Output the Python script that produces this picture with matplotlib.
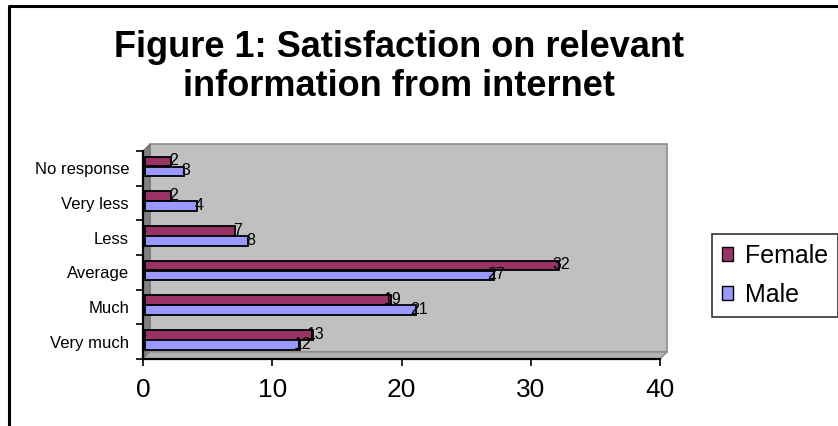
import numpy as np
import matplotlib
matplotlib.use("Agg")
import matplotlib.pyplot as plt
from matplotlib.patches import Polygon, Patch
from matplotlib.lines import Line2D
import matplotlib.transforms as mtransforms

plt.rcParams['font.family'] = ['Liberation Sans', 'DejaVu Sans']

# responses, listed bottom to top
categories = ['Very much', 'Much', 'Average', 'Less', 'Very less', 'No response']
female = [13, 19, 32, 7, 2, 2]
male = [12, 21, 27, 8, 4, 3]

female_color = '#993366'
male_color = '#9999FF'
wall_color = '#C0C0C0'
side_color = '#808080'

W, H = 838, 426
fig = plt.figure(figsize=(W / 100, H / 100), dpi=100)

# front plane of the 3d plot area
ax = fig.add_axes([143 / W, 67 / H, 517 / W, 208 / H])
ax.set_xlim(0, 40)
ax.set_ylim(0, len(categories))
ax.patch.set_visible(False)

depth = 7  # pixels, back wall offset
fig.canvas.draw()
to_px = ax.transData.transform


def px_poly(points, **kw):
    p = Polygon(points, closed=True, transform=mtransforms.IdentityTransform(),
                clip_on=False, **kw)
    fig.add_artist(p)
    return p


x0, y0 = to_px((0, 0))
x1, y1 = to_px((40, len(categories)))
# back wall
px_poly([(x0 + depth, y0 + depth), (x1 + depth, y0 + depth),
         (x1 + depth, y1 + depth), (x0 + depth, y1 + depth)],
        facecolor=wall_color, edgecolor='#8c8c8c', lw=1.2, zorder=0)
# left side wall
px_poly([(x0, y0), (x0 + depth, y0 + depth), (x0 + depth, y1 + depth), (x0, y1)],
        facecolor=side_color, edgecolor='#707070', lw=0.8, zorder=0)
# floor
px_poly([(x0, y0), (x1, y0), (x1 + depth, y0 + depth), (x0 + depth, y0 + depth)],
        facecolor='#b4b4b4', edgecolor='#8c8c8c', lw=1.0, zorder=0)

pos = np.arange(len(categories))
bh = 0.28
ax.barh(pos + 0.70, female, height=bh, color=female_color,
        edgecolor='black', lw=1.3, left=0.15, zorder=3)
ax.barh(pos + 0.41, male, height=bh, color=male_color,
        edgecolor='black', lw=1.3, left=0.15, zorder=3)

# value labels at the bar ends
for i in range(len(categories)):
    ax.text(female[i] + 0.35, pos[i] + 0.72, str(female[i]), ha='center',
            va='center', fontsize=11.5, color='black', zorder=4)
    ax.text(male[i] + 0.35, pos[i] + 0.43, str(male[i]), ha='center',
            va='center', fontsize=11.5, color='black', zorder=4)

for s in ['top', 'right']:
    ax.spines[s].set_visible(False)
ax.spines['left'].set_linewidth(1.6)
ax.spines['bottom'].set_linewidth(1.6)

ax.set_xticks([0, 10, 20, 30, 40])
ax.tick_params(axis='x', length=5, width=1.2, labelsize=19, pad=9)
ax.set_yticks(np.arange(len(categories) + 1))
ax.set_yticklabels([])
ax.set_yticks(pos + 0.5, minor=True)
ax.set_yticklabels(categories, minor=True)
ax.tick_params(axis='y', which='major', length=5, width=1.2)
ax.tick_params(axis='y', which='minor', length=0, labelsize=12, pad=10)

fig.text(399 / W, 1 - 67 / H,
         'Figure 1: Satisfaction on relevant\ninformation from internet',
         ha='center', va='center', fontsize=26, fontweight='bold',
         linespacing=1.12)

handles = [Patch(facecolor=female_color, edgecolor='black', lw=1),
           Patch(facecolor=male_color, edgecolor='black', lw=1)]
leg = fig.legend(handles, ['Female', 'Male'], loc='upper left',
                 bbox_to_anchor=(712 / W, 1 - 234 / H), fontsize=18,
                 frameon=True, fancybox=False, edgecolor='black',
                 handlelength=0.45, handleheight=0.45, handletextpad=0.45,
                 labelspacing=0.6, borderpad=0.4, borderaxespad=0)
leg.get_frame().set_linewidth(1.2)

# outer chart frame
fig.add_artist(Line2D([9 / W, 9 / W, 1], [0, 1 - 6 / H, 1 - 6 / H],
                      transform=fig.transFigure, color='black', lw=2.2))

fig.savefig('out.png', dpi=100)
